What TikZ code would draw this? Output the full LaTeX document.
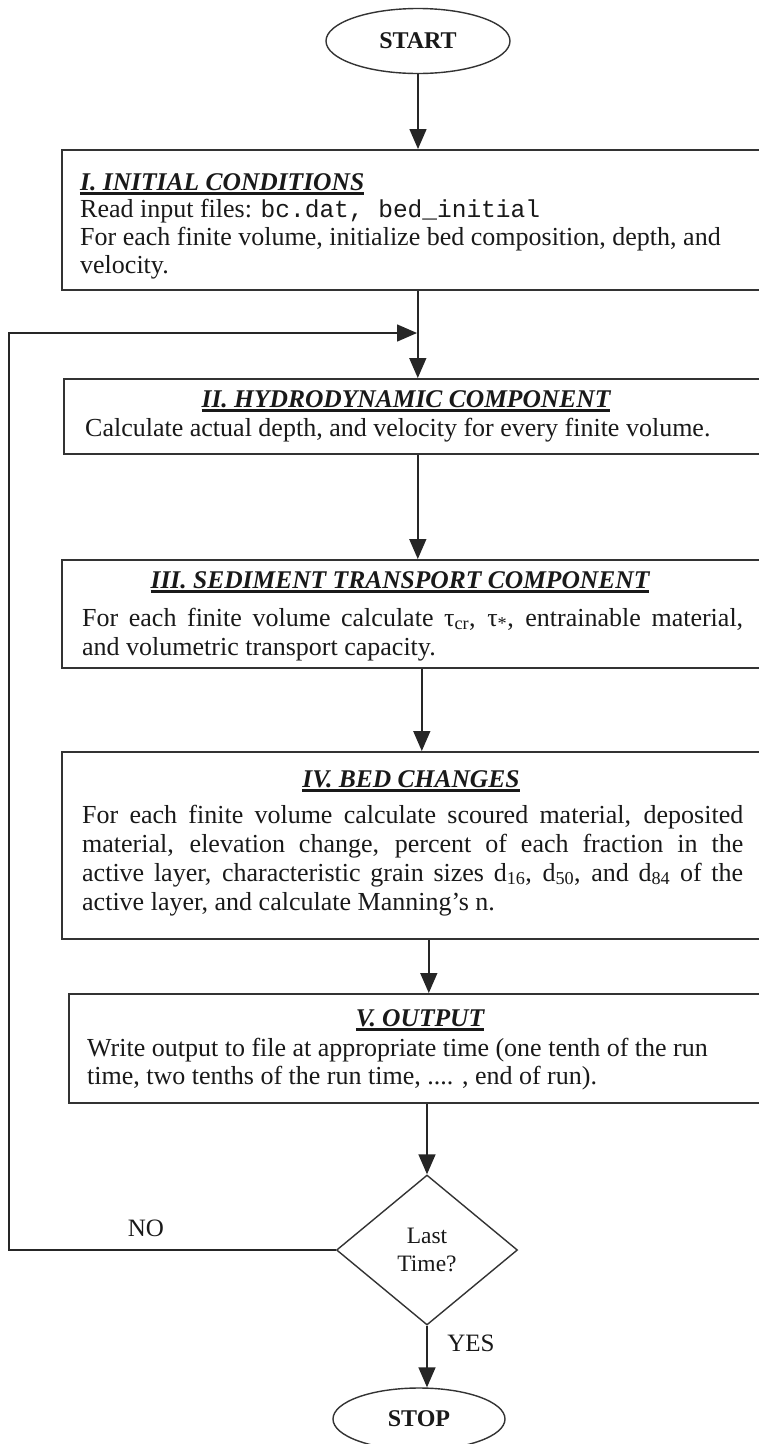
\documentclass[tikz,border=0pt]{standalone}
\usepackage{fontspec}
\setmainfont{Liberation Serif}
\setmonofont{Liberation Mono}
\usetikzlibrary{shapes.geometric,arrows.meta}
\newcommand\ttlul[1]{\setbox0=\hbox{#1}\leavevmode\rlap{\rule[-4.5pt]{\wd0}{2.8pt}}\box0}
\newcommand\jl[1]{\makebox[661pt][s]{#1}}
\begin{document}
\begin{tikzpicture}[x=1pt,y=-1pt,
  every node/.style={text=black!90},
  frame/.style={draw=black!80, line width=1.6pt, rectangle, anchor=north west, inner sep=0},
  term/.style={draw=black!80, line width=1.4pt, ellipse, inner sep=0, font=\fontsize{24}{28}\selectfont\bfseries},
  dec/.style={draw=black!80, line width=1.4pt, diamond, inner sep=0, align=center, font=\fontsize{23.5}{28}\selectfont},
  conn/.style={draw=black!85, line width=1.5pt, -{Triangle[length=20pt,width=17pt]}},
  ttl/.style={inner sep=0, anchor=base, font=\fontsize{25.5}{28}\selectfont\bfseries\itshape},
  body/.style={inner sep=0, anchor=base west, font=\fontsize{26}{28.5}\selectfont},
  lbl/.style={inner sep=0, font=\fontsize{25}{28}\selectfont},
]
\useasboundingbox (0,0) rectangle (759,1444);
\clip (0,0) rectangle (759,1444);
\fill[white] (0,0) rectangle (759,1444);

% terminals and decision
\node[term, minimum width=184pt, minimum height=65pt] (start) at (418,41) {START};
\node[dec, minimum width=181pt, minimum height=150pt] (dia) at (427,1250) {Last\\Time?};
\node[term, minimum width=172pt, minimum height=62pt] (stop) at (419,1419) {STOP};

% frames
\node[frame, minimum width=712pt, minimum height=140pt] (b1) at (61,149) {};
\node[frame, minimum width=708pt, minimum height=75pt] (b2) at (63,378) {};
\node[frame, minimum width=712pt, minimum height=108pt] (b3) at (61,559) {};
\node[frame, minimum width=720pt, minimum height=187pt] (b4) at (61,751) {};
\node[frame, minimum width=720pt, minimum height=109pt] (b5) at (68,993) {};

% box I
\node[ttl, anchor=base west] (t1) at (80,190) {\ttlul{I. INITIAL CONDITIONS}};
\node[body] (x1) at (80,217) {\parbox[t]{700pt}{\baselineskip=28pt
Read input files: {\fontsize{24.5}{28}\ttfamily bc.dat,~bed\_initial}\\
For each finite volume, initialize bed composition, depth, and\\
velocity.}};

% box II
\node[ttl] (t2) at (406,407) {\ttlul{II. HYDRODYNAMIC COMPONENT}};
\node[body] (x2) at (85,436) {Calculate actual depth, and velocity for every finite volume.};

% box III
\node[ttl] (t3) at (400,588) {\ttlul{III. SEDIMENT TRANSPORT COMPONENT}};
\node[body] (x3) at (82,626) {\parbox[t]{700pt}{\baselineskip=29pt
\jl{For each finite volume calculate τ\textsubscript{cr}, τ\textsubscript{*}, entrainable material,}\\
and volumetric transport capacity.}};

% box IV
\node[ttl] (t4) at (411,787) {\ttlul{IV. BED CHANGES}};
\node[body] (x4) at (82,823) {\parbox[t]{700pt}{\baselineskip=29pt
\jl{For each finite volume calculate scoured material, deposited}\\
\jl{material, elevation change, percent of each fraction in the}\\
\jl{active layer, characteristic grain sizes d\textsubscript{16}, d\textsubscript{50}, and d\textsubscript{84} of the}\\
active layer, and calculate Manning’s n.}};

% box V
\node[ttl] (t5) at (420,1026) {\ttlul{V. OUTPUT}};
\node[body] (x5) at (87,1056) {\parbox[t]{700pt}{\baselineskip=28pt
Write output to file at appropriate time (one tenth of the run\\
time, two tenths of the run time, .... , end of run).}};

% labels
\node[lbl] (no) at (146,1228) {NO};
\node[lbl] (yes) at (471,1343) {YES};

% connectors
\coordinate (lp) at (417,333);
\coordinate (lc) at (9,333);
\draw[conn] (start.south) -- (start.south |- b1.north);
\draw[conn] (b1.south) -- (b2.north);
\draw[conn] (b2.south) -- (b2.south |- b3.north);
\draw[conn] (b4.north |- b3.south) -- (b4.north);
\draw[conn] (b5.north |- b4.south) -- (b5.north);
\draw[conn] (dia.north |- b5.south) -- (dia.north);
\draw[conn] (dia.south) -- (dia.south |- stop.north);
\draw[conn] (dia.west) -| (lc) -- (lp);
\end{tikzpicture}
\end{document}
